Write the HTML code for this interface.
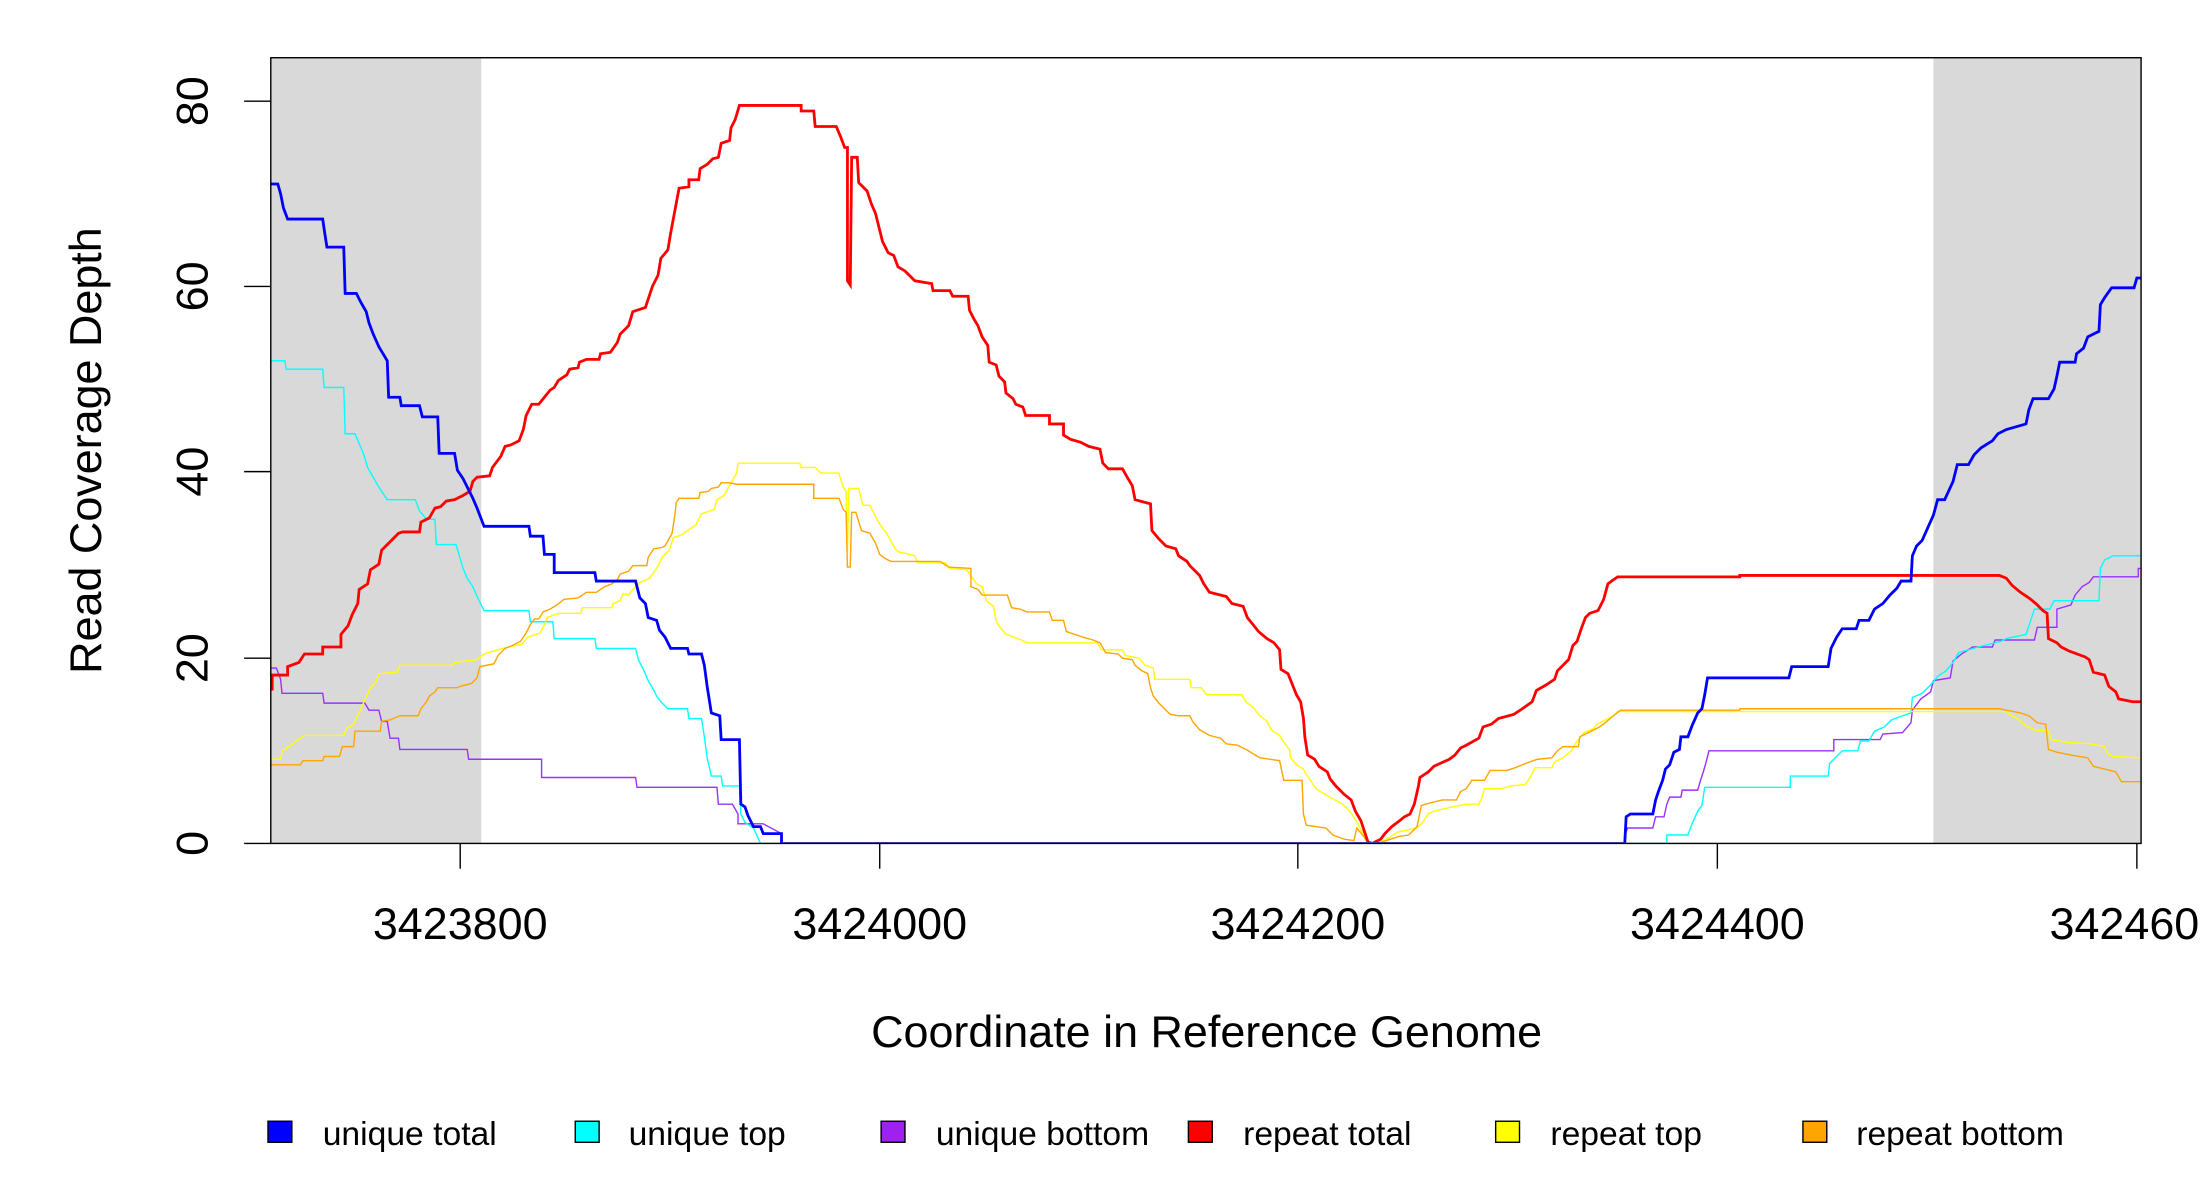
<!DOCTYPE html>
<html><head><meta charset="utf-8"><style>
html,body{margin:0;padding:0;background:#fff;}
svg{display:block;}
text{font-family:"Liberation Sans",Arial,sans-serif;fill:#000;}
</style></head><body>
<svg width="2200" height="1200" viewBox="0 0 1568 855" xmlns="http://www.w3.org/2000/svg">
<defs><clipPath id="c"><rect x="193" y="41" width="1333" height="560"/></clipPath></defs>
<rect x="193" y="41" width="150" height="560" fill="#d9d9d9"/>
<rect x="1378" y="41" width="148" height="560" fill="#d9d9d9"/>
<g clip-path="url(#c)" fill="none" stroke-linejoin="miter">
<polyline stroke="#9b30ff" stroke-width="1" points="193,476 197,476 200,484 201,494 230,494 231,501 260,501 263,506 270,506 272,514 276,514 278,526 284,526 285,534 333,534 334,541 386,541 386,554 453,554 454,561 511,561 512,573 522,573 526,580 526,587 544,587 557,594 557,601 1158,601 1158,596 1160,590 1178,590 1180,582 1186,582 1188,573 1190,568 1198,568 1199,563 1210,563 1212,556 1214,550 1216,543 1218,535 1307,535 1307,527 1340,527 1342,523 1356,522 1362,515 1363,506 1369,498 1376,493 1378,485 1390,483 1392,471 1398,466 1406,461 1420,461 1422,456 1450,456 1452,447 1466,447 1466,434 1476,431 1479,424 1484,418 1489,415 1492,411 1524,411 1524,405 1526,405"/>
<polyline stroke="#00ffff" stroke-width="1" points="193,257 203,257 204,263 230,263 231,276 245,276 246,309 253,309 256,316 259,323 262,333 266,340 270,347 276,356 296,356 299,364 304,370 310,370 311,388 325,388 328,398 330,405 333,412 337,418 340,425 345,435 377,435 378,443 394,443 395,455 424,455 425,462 453,462 455,470 459,478 462,485 465,490 468,496 471,500 476,505 490,505 491,512 500,512 502,525 504,540 507,553 514,553 515,560 527,560 528,580 531,586 537,590 542,601 1188,601 1188,595 1203,595 1206,587 1210,578 1213,574 1215,561 1276,561 1276,553 1303,553 1304,544 1309,539 1313,535 1324,535 1326,528 1332,528 1336,521 1343,518 1348,513 1356,510 1362,508 1363,497 1370,494 1376,488 1381,482 1387,478 1392,472 1396,465 1410,461 1426,457 1430,455 1444,452 1448,440 1450,434 1461,434 1464,428 1496,428 1497,405 1500,399 1506,396 1526,396"/>
<polyline stroke="#ffff00" stroke-width="1" points="193,541 200,541 201,535 206,532 211,528 217,524 245,524 247,519 252,516 256,508 259,501 264,490 268,486 270,480 283,479 285,474 323,474 324,472 340,470 345,466 358,462 372,459 376,454 385,451 388,445 390,440 395,438 399,437 414,437 415,433 436,433 437,430 442,428 444,423 448,424 451,420 456,415 463,412 468,405 472,397 477,392 480,383 486,381 490,378 496,374 500,366 509,363 511,356 516,353 520,346 525,337 526,330 570,330 571,333 581,333 585,337 598,337 599,341 601,347 603,350 604,393 605,348 612,348 615,360 620,360 625,370 628,375 632,380 638,391 640,393 652,396 654,401 674,401 677,405 689,406 692,410 696,416 700,418 703,428 708,432 710,442 712,446 717,452 720,453 728,456 732,458 782,458 785,463 800,463 802,467 812,469 816,474 822,476 823,484 848,484 849,490 856,490 860,495 885,495 888,500 893,504 898,510 903,514 906,520 912,524 915,529 919,534 920,540 924,545 929,548 931,552 934,556 938,562 946,567 957,573 962,578 966,584 970,591 975,600 980,601 984,600 990,597 996,593 1010,590 1014,586 1018,580 1022,578 1035,575 1045,573 1054,573 1056,569 1058,562 1070,562 1077,560 1087,559 1090,555 1094,547 1106,547 1108,543 1114,540 1120,535 1124,528 1129,522 1136,519 1138,516 1144,513 1150,510 1153,507 1430,507 1432,509 1438,512 1442,516 1450,520 1460,521 1462,527 1474,529 1490,530 1500,532 1502,537 1506,539 1526,540"/>
<polyline stroke="#ffa500" stroke-width="1" points="193,545 214,545 216,542 230,542 231,539 242,539 244,532 252,532 253,521 271,521 272,514 278,513 285,510 298,510 300,505 304,500 306,496 310,493 312,490 326,490 328,489 336,487 340,483 342,475 352,473 355,467 360,462 365,460 371,457 375,451 378,445 381,441 384,441 387,436 392,434 397,431 402,427 412,426 418,422 425,422 431,418 436,416 440,413 442,409 448,407 451,403 461,403 462,397 466,391 472,390 474,389 479,380 481,367 482,358 484,355 498,355 499,351 505,350 507,348 512,347 514,344 520,344 525,345 580,345 580,355 598,355 601,363 603,365 604,404 606,404 607,365 610,365 614,378 620,380 624,387 627,395 631,398 635,400 670,400 676,404 692,405 692,418 697,420 700,424 718,424 721,433 727,434 732,436 748,436 750,442 758,442 760,450 766,452 772,454 779,456 784,458 788,465 797,466 800,469 807,470 809,474 814,478 818,480 820,490 822,496 826,501 830,505 834,509 840,510 848,510 850,514 855,520 862,524 870,526 874,530 882,531 888,534 893,537 898,540 912,542 915,556 928,556 929,580 931,588 945,590 950,595 958,598 965,599 967,590 972,596 975,601 980,601 985,600 991,598 997,596 1004,595 1010,589 1013,574 1016,573 1020,572 1028,570 1038,570 1041,564 1045,562 1049,556 1058,556 1062,549 1074,549 1080,547 1090,543 1096,541 1106,540 1110,535 1114,532 1125,532 1126,525 1132,522 1140,518 1144,515 1150,510 1155,506 1240,506 1240,505 1425,505 1440,508 1446,510 1452,515 1458,516 1460,534 1466,536 1476,538 1488,540 1492,546 1500,548 1508,550 1512,557 1526,557"/>
<polyline stroke="#ff0000" stroke-width="2" points="194,492 194,481 205,481 205,475 213,472 217,466 230,466 230,461 243,461 243,452 248,446 251,438 255,430 256,420 262,416 264,406 270,402 272,392 276,388 284,380 287,379 299,379 300,372 306,369 310,362 314,361 318,357 324,356 330,353 335,350 337,343 340,340 349,339 351,333 357,325 360,318 364,317 370,314 373,306 375,296 379,288 384,288 388,283 392,278 395,276 398,271 404,267 406,263 412,262 413,258 418,256 427,256 428,252 435,251 440,244 442,238 448,232 451,222 460,219 465,204 469,196 471,184 476,178 478,166 481,150 484,134 491,133 491,128 498,128 499,120 504,117 508,113 512,112 514,102 520,100 521,91 524,85 527,75 571,75 571,79 580,79 581,90 596,90 599,97 602,105 604,105 604,200 606,203 607,112 611,112 612,130 618,136 621,145 624,152 627,164 629,172 633,180 637,182 640,190 645,193 652,200 664,202 665,207 677,207 679,211 690,211 691,221 694,227 697,232 700,240 704,246 705,258 710,260 712,268 716,272 717,280 722,284 724,288 729,290 731,296 748,296 748,302 758,302 758,310 763,313 770,315 776,318 784,320 786,330 790,334 800,334 804,341 807,346 809,356 820,359 821,378 826,384 831,389 838,391 840,396 846,400 848,403 853,408 855,410 858,416 862,422 874,425 878,430 886,432 889,440 893,445 897,450 903,455 908,458 912,463 913,477 918,480 924,495 927,500 929,512 930,525 932,538 937,541 940,546 946,550 948,555 952,560 958,566 963,570 966,578 970,585 975,600 978,601 984,598 987,594 992,589 996,586 1001,582 1005,580 1008,573 1011,560 1012,554 1018,550 1022,546 1033,541 1037,538 1041,533 1045,531 1054,526 1057,518 1063,516 1068,512 1079,509 1085,505 1092,500 1095,492 1102,488 1108,484 1110,478 1114,474 1118,470 1121,460 1124,457 1127,448 1130,440 1133,437 1139,435 1143,427 1146,416 1150,413 1153,411 1240,411 1240,410 1425,410 1430,412 1434,417 1440,422 1446,426 1451,430 1456,435 1459,437 1460,455 1466,458 1469,461 1475,464 1486,468 1489,470 1492,479 1500,481 1503,489 1508,493 1510,498 1520,500 1526,500"/>
<polyline stroke="#0000ff" stroke-width="2" points="193,131 198,131 200,138 202,148 205,156 230,156 231,163 233,176 245,176 246,209 254,209 257,215 261,222 263,230 266,238 270,247 276,257 277,283 285,283 286,289 299,289 301,297 312,297 313,323 324,323 326,335 330,341 333,347 337,355 340,362 345,375 377,375 378,382 387,382 388,395 395,395 395,408 424,408 425,414 453,414 456,426 460,430 462,440 468,442 470,449 474,454 478,462 490,462 491,466 500,466 502,474 504,489 507,508 513,510 514,527 527,527 528,573 531,575 533,581 537,589 542,589 544,594 557,594 557,601 1158,601 1159,582 1162,580 1178,580 1180,570 1182,564 1185,556 1187,548 1190,545 1193,536 1197,534 1198,525 1203,525 1206,517 1210,508 1213,505 1215,495 1217,483 1275,483 1277,475 1303,475 1305,462 1309,454 1313,448 1323,448 1325,442 1332,442 1336,434 1342,430 1347,424 1352,419 1355,414 1362,414 1363,396 1366,389 1370,385 1374,376 1378,367 1381,356 1386,356 1392,343 1395,331 1403,331 1407,324 1412,319 1420,314 1424,309 1430,306 1444,302 1446,292 1449,284 1460,284 1464,277 1466,268 1468,258 1479,258 1480,252 1485,248 1488,240 1496,236 1497,217 1500,212 1505,205 1521,205 1523,198 1526,198"/>
<line x1="557" y1="601" x2="1158" y2="601" stroke="#5050e0" stroke-width="2"/>
</g>
<rect x="193" y="41" width="1333" height="560" fill="none" stroke="#000" stroke-width="1"/>
<g stroke="#000" stroke-width="1">
<line x1="174" y1="601" x2="193" y2="601"/><line x1="174" y1="469" x2="193" y2="469"/><line x1="174" y1="336" x2="193" y2="336"/><line x1="174" y1="204" x2="193" y2="204"/><line x1="174" y1="72" x2="193" y2="72"/>
<line x1="328" y1="601" x2="328" y2="619"/><line x1="627" y1="601" x2="627" y2="619"/><line x1="925" y1="601" x2="925" y2="619"/><line x1="1224" y1="601" x2="1224" y2="619"/><line x1="1523" y1="601" x2="1523" y2="619"/>
</g>
<g font-size="32" text-anchor="middle">
<text transform="translate(148,601) rotate(-90)">0</text>
<text transform="translate(148,469) rotate(-90)">20</text>
<text transform="translate(148,336) rotate(-90)">40</text>
<text transform="translate(148,204) rotate(-90)">60</text>
<text transform="translate(148,72) rotate(-90)">80</text>
<text x="328" y="669">3423800</text>
<text x="627" y="669">3424000</text>
<text x="925" y="669">3424200</text>
<text x="1224" y="669">3424400</text>
<text x="1523" y="669">3424600</text>
<text x="860" y="746" font-size="32">Coordinate in Reference Genome</text>
<text transform="translate(72,321) rotate(-90)" font-size="32">Read Coverage Depth</text>
</g>
<g stroke="#000" stroke-width="1">
<rect x="191" y="799" width="17" height="15" fill="#0000ff"/>
<rect x="410" y="799" width="17" height="15" fill="#00ffff"/>
<rect x="628" y="799" width="17" height="15" fill="#a020f0"/>
<rect x="847" y="799" width="17" height="15" fill="#ff0000"/>
<rect x="1066" y="799" width="17" height="15" fill="#ffff00"/>
<rect x="1285" y="799" width="17" height="15" fill="#ffa500"/>
</g>
<g font-size="24">
<text x="230" y="816">unique total</text>
<text x="448" y="816">unique top</text>
<text x="667" y="816">unique bottom</text>
<text x="886" y="816">repeat total</text>
<text x="1105" y="816">repeat top</text>
<text x="1323" y="816">repeat bottom</text>
</g>
</svg>
</body></html>
